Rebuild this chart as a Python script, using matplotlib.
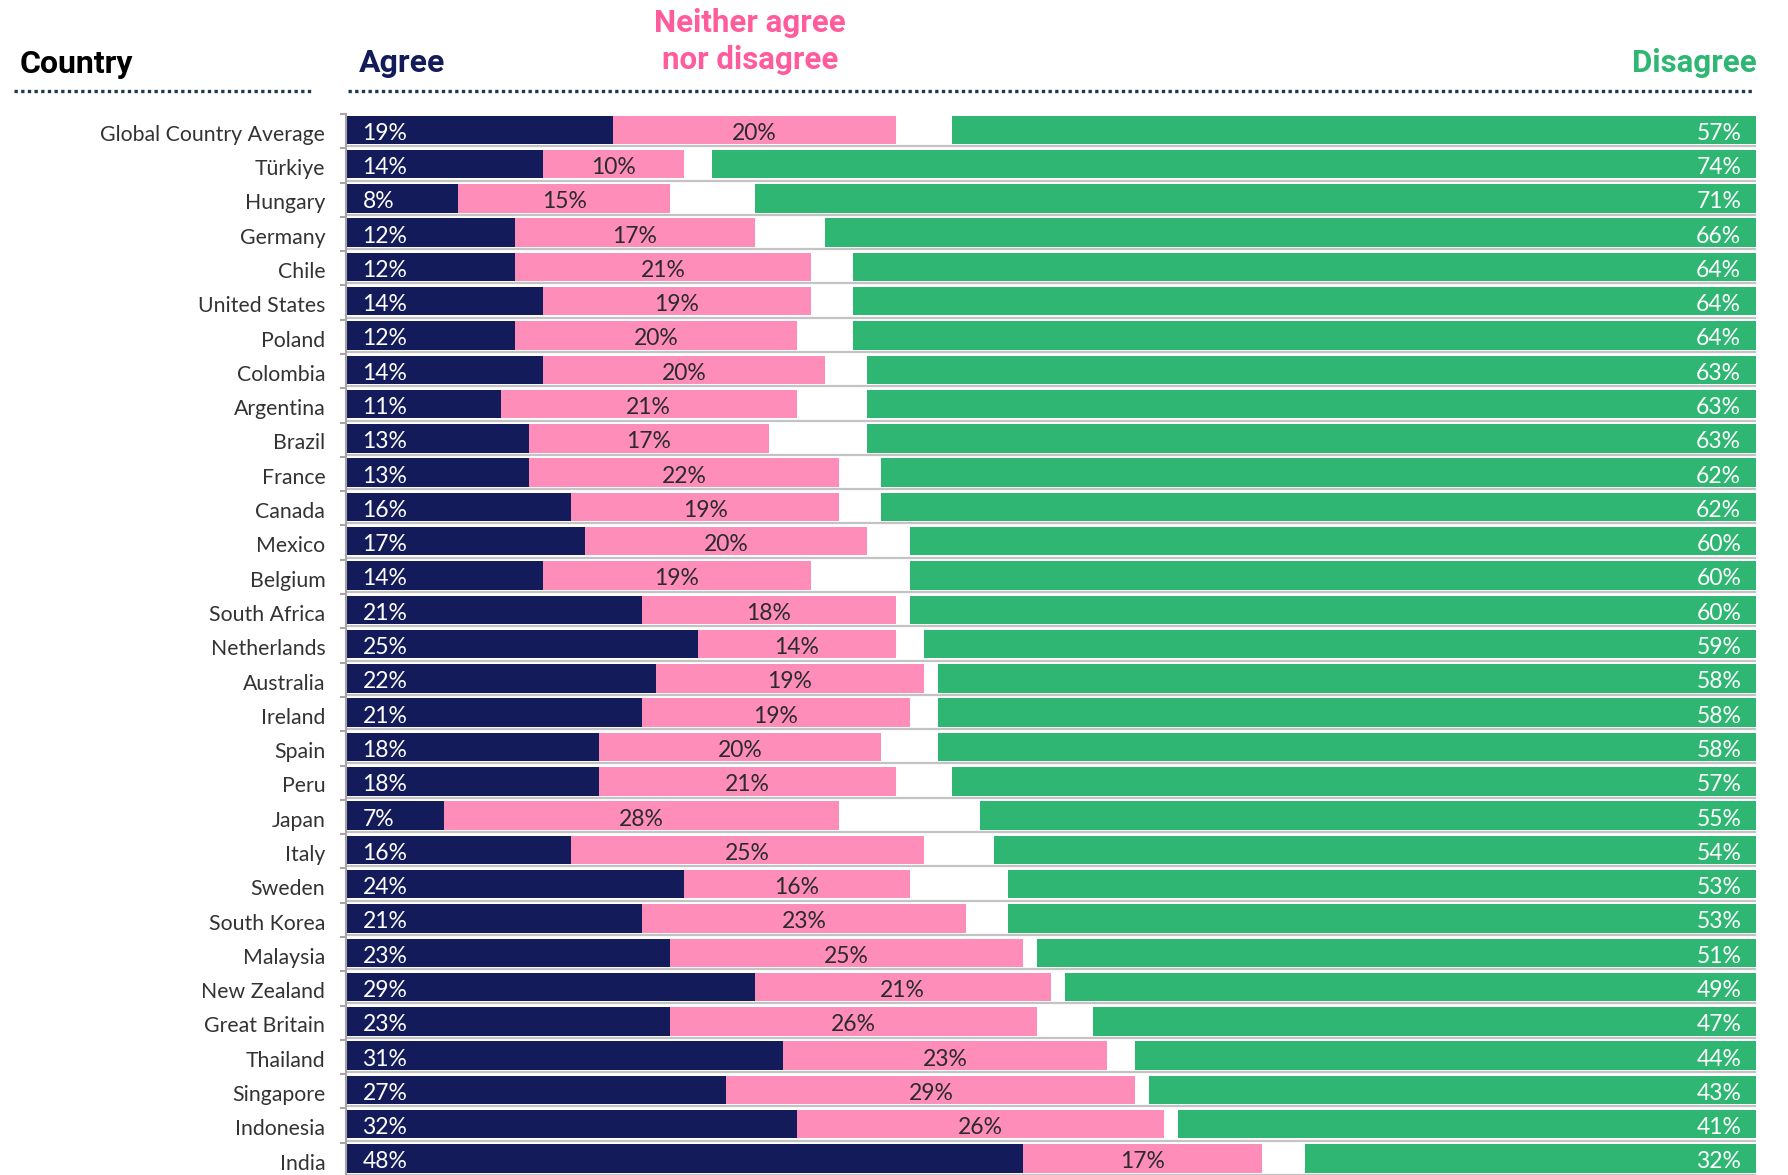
import numpy as np
import matplotlib.pyplot as plt
from matplotlib.lines import Line2D

countries = ["Global Country Average", "Türkiye", "Hungary", "Germany", "Chile",
             "United States", "Poland", "Colombia", "Argentina", "Brazil", "France",
             "Canada", "Mexico", "Belgium", "South Africa", "Netherlands", "Australia",
             "Ireland", "Spain", "Peru", "Japan", "Italy", "Sweden", "South Korea",
             "Malaysia", "New Zealand", "Great Britain", "Thailand", "Singapore",
             "Indonesia", "India"]
agree = [19, 14, 8, 12, 12, 14, 12, 14, 11, 13, 13, 16, 17, 14, 21, 25, 22, 21, 18,
         18, 7, 16, 24, 21, 23, 29, 23, 31, 27, 32, 48]
neither = [20, 10, 15, 17, 21, 19, 20, 20, 21, 17, 22, 19, 20, 19, 18, 14, 19, 19, 20,
           21, 28, 25, 16, 23, 25, 21, 26, 23, 29, 26, 17]
disagree = [57, 74, 71, 66, 64, 64, 64, 63, 63, 63, 62, 62, 60, 60, 60, 59, 58, 58, 58,
            57, 55, 54, 53, 53, 51, 49, 47, 44, 43, 41, 32]

NAVY = "#141b5b"
PINK = "#ff8db9"
GREEN = "#2eb672"
PINK_HEAD = "#ff5c9d"
DOTS = "#1e3a4c"

W, H = 1788, 1175
fig = plt.figure(figsize=(W / 100, H / 100), dpi=100)

# axes: bars span x 345..1756 px, rows from y 114 to 1177 px
ax = fig.add_axes([345.5 / W, 1 - 1177 / H, (1756 - 345.5) / W, (1177 - 114) / H])

agree = np.array(agree)
neither = np.array(neither)
disagree = np.array(disagree)
y = np.arange(len(countries))
yc = y - 0.04
h = 0.83

ax.barh(yc, agree, height=h, color=NAVY, linewidth=0)
ax.barh(yc, neither, left=agree, height=h, color=PINK, linewidth=0)
ax.barh(yc, disagree, left=100 - disagree, height=h, color=GREEN, linewidth=0)

# separators under each bar
for i in y:
    ax.axhline(i + 0.44, color="#c3c3c3", lw=1.6, zorder=0)

pct_font = dict(family=["Lato", "DejaVu Sans"], fontsize=16.5)
for i in y:
    ty = yc[i] + 0.1
    ax.text(1.2, ty, f"{agree[i]}%", color="white", ha="left", va="center", **pct_font)
    ax.text(agree[i] + neither[i] / 2, ty, f"{neither[i]}%", color="#2b2b2b",
            ha="center", va="center", **pct_font)
    ax.text(98.95, ty, f"{disagree[i]}%", color="white", ha="right", va="center", **pct_font)

ax.set_xlim(0, 100)
ax.set_ylim(len(countries) - 0.5, -0.5)
ax.set_xticks([])
ax.set_yticks(y + 0.05)
ax.set_yticklabels(countries, family=["Lato", "DejaVu Sans"], fontsize=15.3, color="#333333")
ax.set_yticks(np.arange(len(countries) + 1) - 0.5, minor=True)
ax.tick_params(axis="y", which="major", length=0, pad=14.5)
ax.tick_params(axis="y", which="minor", length=4.5, width=1.5, color="#a6a6a6")
for s in ["top", "right", "bottom"]:
    ax.spines[s].set_visible(False)
ax.spines["left"].set_color("#a6a6a6")
ax.spines["left"].set_linewidth(1.5)

# headers
head = dict(family=["Roboto", "DejaVu Sans"], fontweight="bold")
fig.text(20 / W, 1 - 73 / H, "Country", color="black", fontsize=23, ha="left", va="baseline", **head)
fig.text(359 / W, 1 - 72 / H, "Agree", color=NAVY, fontsize=23, ha="left", va="baseline", **head)
fig.text(750 / W, 1 - 32 / H, "Neither agree", color=PINK_HEAD, fontsize=22.5, ha="center", va="baseline", **head)
fig.text(750 / W, 1 - 69 / H, "nor disagree", color=PINK_HEAD, fontsize=22.5, ha="center", va="baseline", **head)
fig.text(1757 / W, 1 - 72 / H, "Disagree", color=GREEN, fontsize=22.5, ha="right", va="baseline", **head)

# dotted rules under headers
for x0, x1 in [(14, 314), (348, 1754)]:
    fig.add_artist(Line2D([x0 / W, x1 / W], [1 - 90.5 / H, 1 - 90.5 / H], transform=fig.transFigure,
                          color=DOTS, lw=2.4, linestyle=(0, (1, 1)), solid_capstyle="butt",
                          dash_capstyle="butt"))

fig.savefig("out.png", dpi=100)
